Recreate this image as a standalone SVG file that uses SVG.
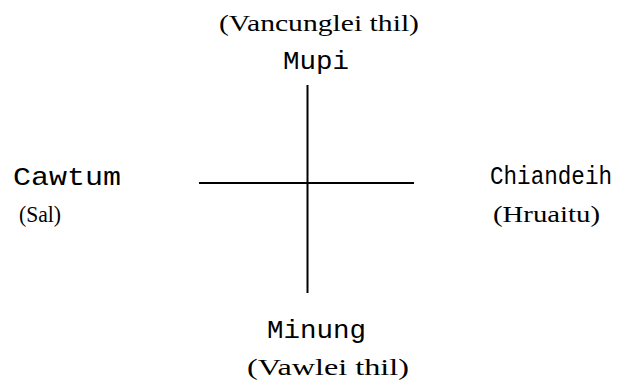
<svg xmlns="http://www.w3.org/2000/svg" width="624" height="381" viewBox="0 0 624 381">
<style>
.main{font-family:"Liberation Mono","Courier New",monospace;font-size:25px;fill:#000}
.sub{font-family:"Liberation Serif","Times New Roman",serif;font-size:23px;fill:#000}
.ax{stroke:#000;stroke-width:2;fill:none}
</style>
<rect width="624" height="381" fill="#fff"/>
<g id="connectors">
<line class="ax" x1="307.5" y1="85" x2="307.5" y2="293"/>
<line class="ax" x1="199" y1="183" x2="414" y2="183"/>
</g>
<g id="north">
<text class="sub" x="219" y="31" textLength="200" lengthAdjust="spacingAndGlyphs">(Vancunglei thil)</text>
<text class="main" x="283" y="69" textLength="66" lengthAdjust="spacingAndGlyphs">Mupi</text>
</g>
<g id="west">
<text class="main" x="13" y="185" textLength="108" lengthAdjust="spacingAndGlyphs">Cawtum</text>
<text class="sub" x="19" y="222" textLength="42" lengthAdjust="spacingAndGlyphs">(Sal)</text>
</g>
<g id="east">
<text class="main" x="490" y="184" textLength="122" lengthAdjust="spacingAndGlyphs">Chiandeih</text>
<text class="sub" x="493" y="222" textLength="107" lengthAdjust="spacingAndGlyphs">(Hruaitu)</text>
</g>
<g id="south">
<text class="main" x="267" y="338" textLength="99" lengthAdjust="spacingAndGlyphs">Minung</text>
<text class="sub" x="247" y="375" textLength="162" lengthAdjust="spacingAndGlyphs">(Vawlei thil)</text>
</g>
</svg>
